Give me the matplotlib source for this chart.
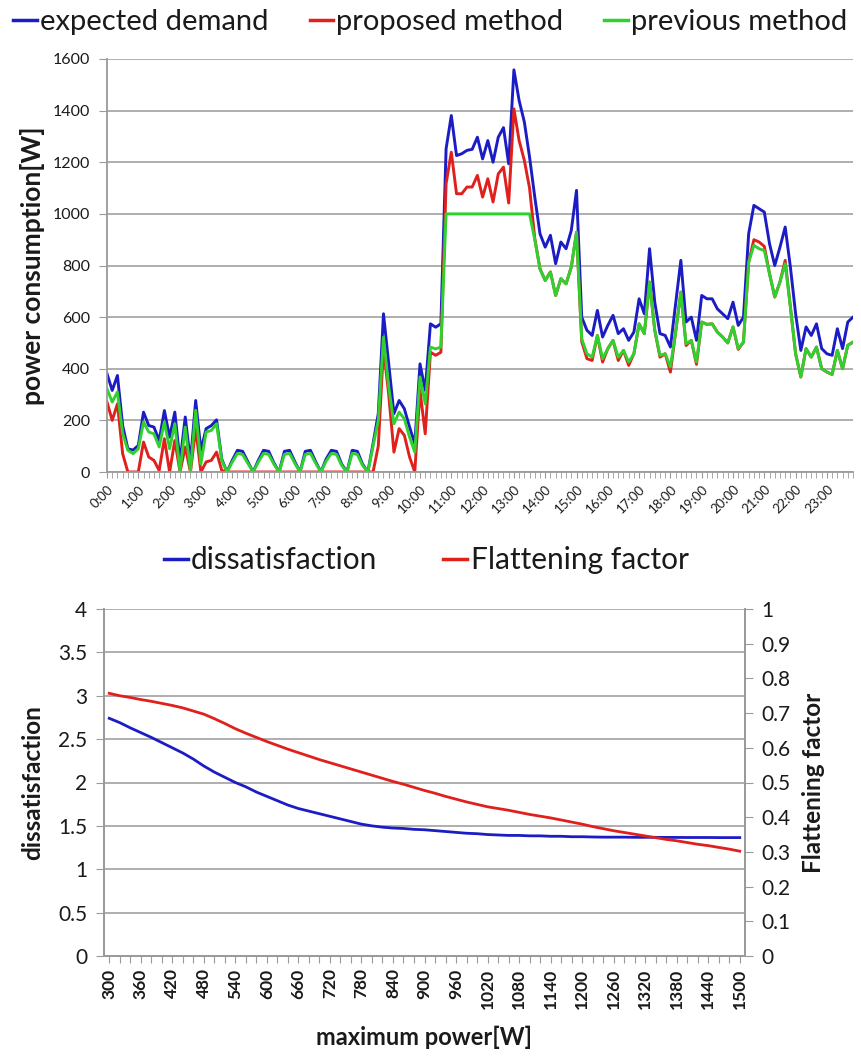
import matplotlib
matplotlib.use("Agg")
import matplotlib.pyplot as plt
from matplotlib.lines import Line2D
from matplotlib.ticker import MultipleLocator, FixedLocator, FixedFormatter
import numpy as np

plt.rcParams['font.family'] = ['Lato', 'DejaVu Sans']

# ---------------- daily load profile (10-minute steps, 144 samples) ----------------
hour_labels = [f"{h}:00" for h in range(24)]

expected_demand = [
    381, 316, 374, 180, 90, 85, 103, 232, 180, 174, 122, 238, 135, 232, 40, 213,
    40, 277, 84, 168, 180, 202, 50, 0, 45, 84, 80, 40, 0, 45, 84, 80,
    35, 0, 80, 84, 40, 0, 80, 84, 40, 0, 50, 84, 80, 30, 0, 84,
    80, 30, 0, 110, 226, 613, 419, 226, 277, 245, 174, 110, 419, 316, 574, 561,
    574, 1252, 1381, 1226, 1233, 1246, 1250, 1297, 1213, 1284, 1200, 1297, 1334, 1194, 1558, 1439,
    1356, 1220, 1065, 923, 871, 917, 807, 891, 865, 936, 1091, 600, 549, 529, 626, 523,
    568, 607, 536, 555, 510, 542, 671, 613, 865, 658, 536, 529, 484, 652, 820, 581,
    600, 510, 684, 671, 671, 632, 613, 594, 658, 568, 600, 923, 1033, 1020, 1007, 884,
    800, 871, 949, 794, 613, 471, 562, 529, 574, 478, 458, 452, 555, 478, 581, 600,
]

proposed_method = [
    271, 200, 264, 71, 0, 0, 0, 116, 58, 45, 6, 129, 0, 122, 0, 97,
    0, 168, 0, 39, 45, 77, 6, 0, 0, 0, 0, 0, 0, 0, 0, 0,
    0, 0, 0, 0, 0, 0, 0, 0, 0, 0, 0, 0, 0, 0, 0, 0,
    0, 0, 0, 0, 100, 480, 300, 77, 168, 142, 58, 0, 316, 148, 464, 452,
    464, 1117, 1239, 1078, 1078, 1104, 1104, 1149, 1065, 1136, 1046, 1155, 1181, 1042, 1407, 1284,
    1207, 1100, 905, 787, 742, 775, 684, 749, 729, 794, 929, 505, 439, 432, 529, 426,
    478, 510, 432, 471, 413, 458, 574, 536, 736, 549, 445, 458, 387, 542, 697, 490,
    510, 417, 581, 572, 574, 542, 523, 500, 562, 475, 503, 813, 900, 891, 874, 768,
    678, 736, 820, 639, 458, 368, 478, 445, 484, 400, 387, 378, 471, 400, 491, 503,
]

previous_method = [
    322, 271, 310, 150, 84, 71, 90, 194, 155, 148, 97, 194, 90, 187, 5, 174,
    5, 239, 32, 155, 161, 187, 45, 0, 38, 72, 68, 34, 0, 38, 72, 68,
    30, 0, 68, 72, 34, 0, 68, 72, 34, 0, 42, 72, 68, 25, 0, 72,
    68, 25, 0, 100, 200, 522, 330, 187, 232, 206, 135, 77, 368, 264, 484, 477,
    484, 1000, 1000, 1000, 1000, 1000, 1000, 1000, 1000, 1000, 1000, 1000, 1000, 1000, 1000, 1000,
    1000, 1000, 900, 787, 742, 775, 684, 749, 729, 794, 929, 516, 458, 445, 529, 439,
    478, 510, 445, 471, 426, 458, 574, 536, 736, 549, 452, 458, 407, 542, 697, 497,
    510, 426, 581, 572, 574, 542, 523, 500, 562, 478, 503, 813, 878, 865, 858, 768,
    678, 736, 807, 639, 458, 368, 478, 445, 484, 400, 387, 378, 471, 400, 491, 503,
]

# ---------------- peak-limit sweep ----------------
max_power = list(range(300, 1501, 20))
max_power_labels = [str(v) if (v - 300) % 60 == 0 else "" for v in max_power]

dissatisfaction = [
    2.74, 2.69, 2.63, 2.575, 2.52, 2.46, 2.40, 2.34, 2.27, 2.19,
    2.12, 2.06, 2.00, 1.95, 1.89, 1.84, 1.79, 1.74, 1.70, 1.67,
    1.64, 1.61, 1.58, 1.55, 1.52, 1.50, 1.485, 1.475, 1.47, 1.46,
    1.455, 1.445, 1.435, 1.425, 1.415, 1.41, 1.40, 1.395, 1.39, 1.39,
    1.385, 1.385, 1.38, 1.38, 1.375, 1.375, 1.372, 1.37, 1.37, 1.37,
    1.368, 1.368, 1.368, 1.367, 1.367, 1.366, 1.366, 1.366, 1.365, 1.365,
    1.365,
]

flattening_factor = [
    0.757, 0.750, 0.745, 0.739, 0.734, 0.728, 0.722, 0.715, 0.706, 0.697,
    0.684, 0.670, 0.655, 0.642, 0.630, 0.618, 0.607, 0.596, 0.586, 0.576,
    0.566, 0.557, 0.548, 0.539, 0.530, 0.521, 0.512, 0.503, 0.495, 0.486,
    0.477, 0.469, 0.460, 0.452, 0.444, 0.437, 0.430, 0.425, 0.420, 0.414,
    0.408, 0.403, 0.398, 0.392, 0.386, 0.380, 0.373, 0.367, 0.361, 0.356,
    0.351, 0.346, 0.341, 0.336, 0.332, 0.327, 0.322, 0.318, 0.313, 0.308,
    0.302,
]

BLUE = '#1c1cc4'
RED = '#e0201c'
GREEN = '#2fd12f'
GRID = '#a8a8a8'
AXIS = '#9a9a9a'
TXT = '#1a1a1a'

W, H = 861, 1059
fig = plt.figure(figsize=(W / 100, H / 100), dpi=100)


def frac_box(x0, y0, x1, y1):
    return [x0 / W, 1 - y1 / H, (x1 - x0) / W, (y1 - y0) / H]


# ================= top chart =================
ax1 = fig.add_axes(frac_box(107, 59, 853, 472))
t = np.arange(len(expected_demand))
ax1.plot(t, expected_demand, color=BLUE, lw=2.1, solid_joinstyle='round')
ax1.plot(t, proposed_method, color=RED, lw=2.1, solid_joinstyle='round')
ax1.plot(t, previous_method, color=GREEN, lw=2.1, solid_joinstyle='round')

ax1.set_xlim(0, len(t) - 1)
ax1.set_ylim(0, 1600)
ax1.yaxis.set_major_locator(MultipleLocator(200))
ax1.grid(axis='y', color=GRID, lw=1.3)
ax1.set_axisbelow(True)
for s in ('top', 'right'):
    ax1.spines[s].set_visible(False)
for s in ('left', 'bottom'):
    ax1.spines[s].set_color(AXIS)
    ax1.spines[s].set_linewidth(1.3)

ax1.xaxis.set_major_locator(FixedLocator(np.arange(0, len(t), 6)))
ax1.xaxis.set_major_formatter(FixedFormatter(hour_labels))
ax1.xaxis.set_minor_locator(MultipleLocator(1))
ax1.tick_params(axis='x', which='both', direction='out', length=4, color=AXIS,
                labelsize=9.5, labelcolor=TXT, pad=4)
ax1.tick_params(axis='y', direction='out', length=6, color=AXIS, labelsize=11.5,
                labelcolor=TXT, pad=6)
for lab in ax1.get_xticklabels():
    lab.set_rotation(45)
    lab.set_ha('right')
    lab.set_rotation_mode('anchor')
ax1.set_ylabel('power consumption[W]', fontsize=19, fontweight='bold', color=TXT, labelpad=6)

top_handles = [Line2D([], [], color=c, lw=2.5) for c in (BLUE, RED, GREEN)]
fig.legend(top_handles, ['expected demand', 'proposed method', 'previous method'],
           loc='center', bbox_to_anchor=(0.5, 1 - 22 / H), ncol=3, frameon=False,
           fontsize=21, handlelength=0.8, handletextpad=0.12, columnspacing=1.4,
           labelcolor=TXT)

# ================= bottom chart =================
ax2 = fig.add_axes(frac_box(104, 609, 745, 956))
k = np.arange(len(max_power))
ax2.plot(k, dissatisfaction, color=BLUE, lw=2.0)
ax3 = ax2.twinx()
ax3.plot(k, flattening_factor, color=RED, lw=2.0)

ax2.set_xlim(-0.5, len(k) - 0.5)
ax2.set_ylim(0, 4)
ax3.set_ylim(0, 1)
ax2.yaxis.set_major_locator(MultipleLocator(0.5))
ax3.yaxis.set_major_locator(MultipleLocator(0.1))
ax2.yaxis.set_major_formatter(plt.FuncFormatter(lambda v, p: f"{v:g}"))
ax3.yaxis.set_major_formatter(plt.FuncFormatter(lambda v, p: f"{v:.1f}".rstrip('0').rstrip('.') if v else "0"))
ax2.grid(axis='y', color=GRID, lw=1.3)
ax2.set_axisbelow(True)
for a in (ax2, ax3):
    a.spines['top'].set_visible(False)
    for s in ('left', 'right', 'bottom'):
        a.spines[s].set_color(AXIS)
        a.spines[s].set_linewidth(1.3)

ax2.xaxis.set_major_locator(FixedLocator(k))
ax2.xaxis.set_major_formatter(FixedFormatter(max_power_labels))
ax2.tick_params(axis='x', direction='out', length=5, color=AXIS, labelsize=12.5,
                labelcolor=TXT, pad=4, labelrotation=90)
for lab in ax2.get_xticklabels():
    lab.set_fontweight('bold')
ax2.tick_params(axis='y', direction='out', length=6, color=AXIS, labelsize=15,
                labelcolor=TXT, pad=6)
ax3.tick_params(axis='y', direction='out', length=6, color=AXIS, labelsize=15,
                labelcolor=TXT, pad=6)

ax2.set_ylabel('dissatisfaction', fontsize=17.5, fontweight='bold', color=TXT, labelpad=10)
ax3.set_ylabel('Flattening factor', fontsize=17.5, fontweight='bold', color=TXT, labelpad=8)
ax2.set_xlabel('maximum power[W]', fontsize=17, fontweight='bold', color=TXT, labelpad=12)

bottom_handles = [Line2D([], [], color=c, lw=2.5) for c in (BLUE, RED)]
fig.legend(bottom_handles, ['dissatisfaction', 'Flattening factor'],
           loc='center', bbox_to_anchor=(0.495, 1 - 560 / H), ncol=2, frameon=False,
           fontsize=21.5, handlelength=0.8, handletextpad=0.12, columnspacing=2.2,
           labelcolor=TXT)

fig.savefig('out.png', dpi=100)
